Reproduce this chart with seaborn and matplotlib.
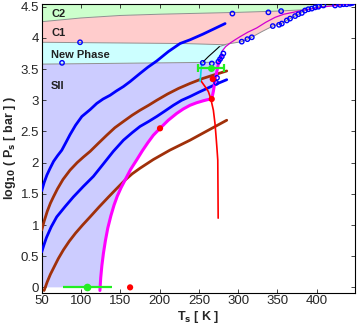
import numpy as np
import seaborn as sns
import matplotlib.pyplot as plt

# ---- data (T in K, log10 P in bar) ----
blue_hi_T = [50, 53, 56.5, 60.6, 65, 70, 75.5, 81, 86, 93, 101, 111.5, 120, 128, 136.9, 145,
             153.9, 162.4, 175, 185, 196.3, 211, 226, 238.7, 255, 270, 283.3]
blue_hi_P = [1.55, 1.68, 1.80, 1.91, 2.02, 2.11, 2.20, 2.33, 2.45, 2.60, 2.74, 2.85, 2.95, 3.02,
             3.08, 3.15, 3.22, 3.30, 3.43, 3.53, 3.63, 3.78, 3.91, 3.97, 4.06, 4.15, 4.23]

blue_lo_T = [50, 53, 56, 62, 69, 80, 90.2, 103, 115.7, 128.4, 141, 153.9, 165, 175, 186,
             196.3, 207, 217.5, 228, 238.7, 250, 262, 274, 285.4]
blue_lo_P = [0.57, 0.69, 0.80, 0.97, 1.13, 1.30, 1.45, 1.62, 1.78, 1.98, 2.18, 2.36, 2.48, 2.58,
             2.66, 2.74, 2.83, 2.92, 3.00, 3.06, 3.13, 3.20, 3.27, 3.33]

brown_hi_T = [50, 53, 57, 61, 64.8, 70, 77, 86, 95, 103, 111.5, 122, 132.7, 143, 153.9, 165,
              175, 186, 196.3, 210, 224, 238.7, 255, 270, 285.4]
brown_hi_P = [0.92, 1.06, 1.22, 1.35, 1.45, 1.58, 1.73, 1.88, 2.00, 2.09, 2.18, 2.31, 2.44, 2.56,
              2.66, 2.76, 2.84, 2.92, 3.00, 3.10, 3.19, 3.27, 3.35, 3.41, 3.47]

brown_lo_T = [53, 57, 61, 65, 71, 77.5, 85, 93, 102, 111.5, 123, 135, 145, 156, 165, 175, 192,
              213, 238.7, 262, 285.4]
brown_lo_P = [-0.05, 0.09, 0.21, 0.31, 0.46, 0.60, 0.74, 0.87, 1.00, 1.13, 1.29, 1.45, 1.58,
              1.72, 1.82, 1.91, 2.05, 2.20, 2.36, 2.52, 2.68]

magenta_T = [124, 125, 126.5, 128.5, 131, 134, 138, 142, 146, 151, 156, 163, 170.6, 178, 185,
             192, 200.5, 211, 221.8, 230, 238.7, 247, 255, 261, 266.3, 268.5, 270.6, 272.8,
             274.8, 279]
magenta_P = [-0.05, 0.15, 0.35, 0.55, 0.75, 0.95, 1.15, 1.32, 1.46, 1.60, 1.72, 1.89, 2.04,
             2.19, 2.32, 2.44, 2.55, 2.68, 2.79, 2.86, 2.92, 2.96, 2.99, 3.01, 3.02, 3.15,
             3.33, 3.46, 3.59, 3.73]

magenta_thin_T = [279, 284, 290, 296, 302.4, 312, 323.6, 335, 347, 358, 370, 380, 390, 410,
                  432, 450]
magenta_thin_P = [3.78, 3.86, 3.92, 3.97, 4.02, 4.09, 4.16, 4.25, 4.33, 4.38, 4.41, 4.44, 4.46,
                  4.50, 4.53, 4.55]

red_T = [251.5, 257.8, 262, 265, 268.4, 270.5, 271.8, 273, 274, 274.3, 274.5]
red_P = [3.33, 3.22, 3.14, 3.03, 2.84, 2.62, 2.42, 2.22, 2.04, 1.50, 1.11]

cyan_T = [253.6, 252.5, 251.5]
cyan_P = [3.59, 3.45, 3.30]

black_T = [255.7, 262, 270, 276]
black_P = [3.62, 3.70, 3.79, 3.86]

# sublimation boundary (gray, through the open circles)
subl_T = [276, 285, 295, 304.5, 317, 330, 344, 355, 366, 377, 385, 394, 402, 423, 434, 446, 452]
subl_P = [3.86, 3.90, 3.92, 3.94, 4.01, 4.10, 4.19, 4.23, 4.31, 4.38, 4.44, 4.47, 4.50, 4.52,
          4.54, 4.56, 4.57]

# phase boundaries
sII_top_T = [50, 276.5]
sII_top_P = [3.58, 3.61]
np_top_T = [50, 230, 284]
np_top_P = [3.93, 3.91, 3.89]
c1_top_T = [50, 100, 150, 200, 250, 300, 350, 389]
c1_top_P = [4.26, 4.32, 4.36, 4.38, 4.395, 4.41, 4.43, 4.455]

circ_T = [254.9, 266.4, 274.8, 276.9, 279.1, 281.1, 304.5, 311.7, 317.3, 344, 352, 355.5, 361.8,
          366, 372.4, 376.6, 381, 385, 389.3, 393.6, 397.9, 402, 408.4, 423.3, 429.6, 433.9, 438,
          442.4, 445.3, 273, 272, 292.6, 338.4, 354.6, 75.8, 98.7]
circ_P = [3.60, 3.59, 3.62, 3.66, 3.70, 3.75, 3.94, 3.98, 4.01, 4.19, 4.21, 4.23, 4.28,
          4.31, 4.35, 4.38, 4.40, 4.44, 4.46, 4.47, 4.49, 4.50, 4.52, 4.52, 4.53, 4.54, 4.54,
          4.55, 4.56, 3.36, 3.28, 4.39, 4.41, 4.43, 3.60, 3.93]

red_dot_T = [200.5, 266.3, 267.6, 162.4]
red_dot_P = [2.55, 3.02, 3.34, 0.0]

green_T = [265, 108]
green_P = [3.51, 0.0]
green_err = [16.5, 31.5]

region_labels = ["C2", "C1", "New Phase", "SII"]
label_P = [4.39, 4.08, 3.73, 3.23]

sns.set_theme(style="ticks")
plt.rcParams['font.family'] = ['Liberation Sans', 'DejaVu Sans']

fig = plt.figure(figsize=(3.57, 3.27), dpi=100)
ax = fig.add_axes([0.117, 0.105, 0.876, 0.883])

# ---- shaded phase regions ----
mt = np.array(magenta_T); mp = np.array(magenta_P)
keep = mp <= 3.61
sII_x = [50] + list(mt[keep]) + [276.5, 50]
sII_y = [0] + list(np.clip(mp[keep], 0, None)) + [3.61, 3.58]
ax.fill(sII_x, sII_y, color="#ccccff", lw=0, zorder=0)

np_x = [50, 276.5, 279, 281, 284, 230, 50]
np_y = [3.58, 3.61, 3.73, 3.78, 3.89, 3.91, 3.93]
ax.fill(np_x, np_y, color="#ccffff", lw=0, zorder=0)

st = np.array(subl_T); sp = np.array(subl_P)
seg = (st >= 295) & (st <= 389)
c1_x = [50, 230, 284] + list(st[seg]) + [389] + c1_top_T[::-1]
c1_y = [3.93, 3.91, 3.89] + list(sp[seg]) + [4.455] + c1_top_P[::-1]
ax.fill(c1_x, c1_y, color="#ffcccc", lw=0, zorder=0)

seg2 = st > 389
c2_x = c1_top_T + list(st[seg2]) + [452, 50]
c2_y = c1_top_P + list(sp[seg2]) + [4.7, 4.7]
ax.fill(c2_x, c2_y, color="#ccffcc", lw=0, zorder=0)

# boundary lines
for bx, by in [(sII_top_T, sII_top_P), (np_top_T, np_top_P), (c1_top_T, c1_top_P), (subl_T, subl_P)]:
    ax.plot(bx, by, color="#909090", lw=0.7, zorder=1)

# ---- curves ----
def curve(x, y, color, lw):
    sns.lineplot(x=x, y=y, color=color, lw=lw, sort=False, estimator=None, ax=ax, zorder=3)

curve(brown_hi_T, brown_hi_P, "#a0300a", 2.0)
curve(brown_lo_T, brown_lo_P, "#a0300a", 2.0)
curve(blue_hi_T, blue_hi_P, "#0000ff", 2.0)
curve(blue_lo_T, blue_lo_P, "#0000ff", 2.0)
curve(magenta_T, magenta_P, "#ff00ff", 2.2)
curve(magenta_thin_T, magenta_thin_P, "#d000d0", 0.9)
curve(red_T, red_P, "#ff0000", 1.2)
curve(cyan_T, cyan_P, "#00dddd", 1.2)
curve(black_T, black_P, "black", 0.8)

sns.scatterplot(x=circ_T, y=circ_P, marker="o", s=10, facecolor="none",
                edgecolor="#0000ff", linewidth=1.0, ax=ax, zorder=5)
sns.scatterplot(x=red_dot_T, y=red_dot_P, marker="o", s=20, color="#ff0000",
                edgecolor="none", ax=ax, zorder=6)

ax.errorbar(green_T[0], green_P[0], xerr=green_err[0], fmt="o", color="#22ee22",
            ms=4, lw=1.6, capsize=3, capthick=1.6, zorder=6)
ax.errorbar(green_T[1], green_P[1], xerr=green_err[1], fmt="o", color="#22ee22",
            ms=4.5, lw=1.6, capsize=0, zorder=6)

for lab, yv in zip(region_labels, label_P):
    ax.text(62, yv, lab, fontsize=8, fontweight="bold", color="#202020", va="center", ha="left")

ax.set_xlim(50, 448)
ax.set_ylim(-0.085, 4.545)
ax.set_xticks(np.arange(50, 401, 50))
ax.set_yticks(np.arange(0, 4.51, 0.5))
ax.set_yticklabels(["0", "0.5", "1", "1.5", "2", "2.5", "3", "3.5", "4", "4.5"])
ax.tick_params(direction="in", top=True, right=True, length=3, width=0.6, labelsize=9.5, pad=2)
for s in ax.spines.values():
    s.set_linewidth(0.8)
    s.set_color("black")

ax.set_xlabel("T$_\\mathbf{s}$ [ K ]", fontsize=9, fontweight="bold", labelpad=1)
ax.set_ylabel("log$_\\mathbf{10}$ ( P$_\\mathbf{s}$ [ bar ] )", fontsize=9, fontweight="bold", labelpad=2)

fig.savefig("out.png", dpi=100)
